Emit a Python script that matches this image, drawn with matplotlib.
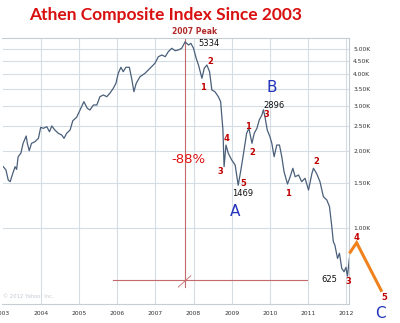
import matplotlib
matplotlib.use("Agg")
import matplotlib.pyplot as plt
import numpy as np

# ---- data (decimal year, index level) ----
years = [2003.02, 2003.09, 2003.15, 2003.20, 2003.27, 2003.33, 2003.37, 2003.41, 2003.48, 2003.54,
         2003.62, 2003.65, 2003.70, 2003.76, 2003.85, 2003.94, 2004.00, 2004.07, 2004.16, 2004.23,
         2004.29, 2004.37, 2004.46, 2004.55, 2004.61, 2004.68, 2004.77, 2004.84, 2004.94, 2005.03,
         2005.13, 2005.22, 2005.29, 2005.38, 2005.47, 2005.55, 2005.64, 2005.73, 2005.81, 2005.90,
         2005.97, 2006.03, 2006.10, 2006.16, 2006.23, 2006.32, 2006.38, 2006.44, 2006.50, 2006.60,
         2006.73, 2006.86, 2006.99, 2007.08, 2007.17, 2007.26, 2007.34, 2007.43, 2007.52, 2007.60,
         2007.69, 2007.78, 2007.87, 2007.93, 2008.00, 2008.07, 2008.13, 2008.22, 2008.28, 2008.35,
         2008.42, 2008.48, 2008.56, 2008.65, 2008.71, 2008.77, 2008.80, 2008.85, 2008.91, 2009.00,
         2009.09, 2009.17, 2009.24, 2009.31, 2009.39, 2009.45, 2009.53, 2009.59, 2009.66, 2009.72,
         2009.79, 2009.83, 2009.87, 2009.93, 2010.00, 2010.05, 2010.11, 2010.18, 2010.25, 2010.31,
         2010.37, 2010.46, 2010.53, 2010.60, 2010.66, 2010.75, 2010.83, 2010.92, 2011.01, 2011.10,
         2011.14, 2011.22, 2011.31, 2011.40, 2011.49, 2011.56, 2011.62, 2011.66, 2011.70, 2011.77,
         2011.82, 2011.88, 2011.94, 2011.99, 2012.03, 2012.08, 2012.12]
values = [1736, 1685, 1540, 1517, 1635, 1736, 1695, 1899, 1958, 2142,
          2287, 2142, 2004, 2142, 2173, 2240, 2473, 2451, 2487, 2377,
          2503, 2414, 2344, 2308, 2240, 2344, 2414, 2625, 2706, 2890,
          3114, 2934, 2890, 3023, 3023, 3257, 3307, 3257, 3358, 3512,
          3674, 4020, 4243, 4078, 4243, 4243, 3843, 3407, 3674, 3898,
          4020, 4204, 4398, 4667, 4739, 4667, 4882, 5033, 4925, 4956,
          5033, 5334, 5184, 5264, 5033, 4600, 4331, 3843, 4204, 4331,
          4078, 3459, 3407, 3257, 3114, 2414, 1736, 2109, 1958, 1843,
          1762, 1469, 1685, 1958, 2344, 2451, 2142, 2344, 2451, 2641,
          2763, 2896, 2721, 2414, 2273, 2142, 1899, 2109, 2109, 1899,
          1659, 1485, 1586, 1711, 1586, 1611, 1517, 1564, 1407, 1635,
          1711, 1635, 1517, 1325, 1286, 1211, 1012, 884, 858, 761,
          797, 696, 675, 702, 649, 761, 784]

year_ticks = [2003, 2004, 2005, 2006, 2007, 2008, 2009, 2010, 2011, 2012]
year_labels = ["2003", "2004", "2005", "2006", "2007", "2008", "2009", "2010", "2011", "2012"]
level_ticks = [1000, 1500, 2000, 2500, 3000, 3500, 4000, 4500, 5000]
level_labels = ["1.00K", "1.50K", "2.00K", "2.50K", "3.00K", "3.50K", "4.00K", "4.50K", "5.00K"]

peak_year, peak_value = 2007.78, 5334
low_value = 625
hline_years = [2005.89, 2010.97]
proj_years = [2012.08, 2012.27, 2012.93]
proj_values = [796, 876, 564]

W, H = 400, 323
fig = plt.figure(figsize=(W / 100, H / 100), dpi=100)
fig.patch.set_facecolor("white")

def fx(x):
    return x / W

def fy(y):
    return 1 - y / H

ax = fig.add_axes([fx(2.5), fy(304), fx(349) - fx(2.5), fy(38) - fy(304)])
ax.set_yscale("log")
ax.set_xlim(2003.0, 2012.07)
ax.set_ylim(505, 5521)

grid_c = "#d6dce4"
for t in level_ticks:
    ax.axhline(t, color=grid_c, lw=0.8, zorder=0)
for t in year_ticks[1:]:
    ax.axvline(t, color=grid_c, lw=0.8, zorder=0)

ax.plot(years, values, color="#4a5f7a", lw=0.9, zorder=3)

# red crosshair
rc = "#c46a6a"
ax.plot([peak_year, peak_year], [5450, 588], color=rc, lw=0.8, zorder=2, clip_on=False)
ax.plot(hline_years, [low_value, low_value], color=rc, lw=0.8, zorder=2)
ax.plot([2007.60, 2007.93], [588, 651], color=rc, lw=0.6, zorder=2)

# orange projection
ax.plot(proj_years, proj_values, color="#f0821e", lw=2.2, zorder=4, clip_on=False,
        solid_capstyle="butt", solid_joinstyle="miter")

ax.spines["left"].set_visible(False)
for s in ["top", "bottom", "right"]:
    ax.spines[s].set_color("#c8cdd3")
    ax.spines[s].set_linewidth(0.8)

ax.yaxis.tick_right()
ax.set_yticks(level_ticks)
ax.set_yticklabels(level_labels)
ax.minorticks_off()
ax.set_xticks(year_ticks)
ax.set_xticklabels(year_labels)
ax.tick_params(axis="both", length=0, labelsize=4.3, colors="#333333")
ax.tick_params(axis="y", pad=3)
ax.tick_params(axis="x", pad=5)

# texts
fig.text(fx(166), fy(15), "Athen Composite Index Since 2003", color="#d81010",
         fontsize=12.5, fontweight="bold", family="Lato", ha="center", va="center")
fig.text(fx(195), fy(32), "2007 Peak", color="#b22b2b", fontsize=5.5, fontweight="bold",
         ha="center", va="center")

black_labels = [(209, 44, "5334"), (243, 193, "1469"), (274, 106, "2896"), (329, 280, "625")]
for x, y, s in black_labels:
    fig.text(fx(x), fy(y), s, color="#111111", fontsize=6, ha="center", va="center")

wave = [(203, 87, "1"), (210, 61, "2"), (220, 172, "3"), (227, 138, "4"), (243, 184, "5"),
        (248, 126, "1"), (252, 153, "2"), (266, 114, "3"),
        (288, 193, "1"), (316, 161, "2"), (348, 282, "3"), (357, 238, "4"), (384, 298, "5")]
for x, y, s in wave:
    fig.text(fx(x), fy(y), s, color="#c00000", fontsize=6, fontweight="bold",
             ha="center", va="center")

fig.text(fx(188), fy(160), "-88%", color="#e01010", fontsize=9.5, ha="center", va="center")
blue = "#2233bb"
fig.text(fx(235), fy(211), "A", color=blue, fontsize=11, ha="center", va="center")
fig.text(fx(272), fy(88), "B", color=blue, fontsize=11, ha="center", va="center")
fig.text(fx(380), fy(314), "C", color=blue, fontsize=11, ha="center", va="center")

fig.text(fx(3), fy(297), "© 2012 Yahoo! Inc.", color="#c3cbd3", fontsize=3.8,
         ha="left", va="center")

fig.savefig("out.png", dpi=100, facecolor="white")
